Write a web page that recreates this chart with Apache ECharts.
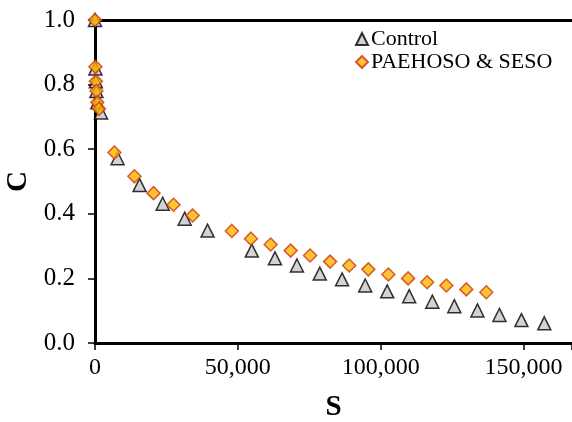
<!DOCTYPE html>
<html lang="en">
    <head>
        <meta charset="UTF-8" />
        <title>C vs S</title>
        <script src="https://cdn.jsdelivr.net/npm/echarts@6/dist/echarts.min.js"></script>
        <style>
            body {
                margin: 0;
                padding: 0;
                background: #fff;
            }

            #chart {
                width: 572px;
                height: 422px;
            }
        </style>
    </head>
    <body>
        <div id="chart"></div>
        <script>
            // values
            let controlS = [0, 150, 300, 500, 800, 2100, 7900, 15600, 23700, 31400, 39400, 54900, 63000, 70700, 78700, 86500, 94600, 102300, 110000, 118100, 125800, 133900, 141600, 149300, 157300];
            let controlC = [1.0, 0.85, 0.81, 0.78, 0.745, 0.714, 0.572, 0.489, 0.431, 0.385, 0.348, 0.286, 0.262, 0.24, 0.215, 0.197, 0.178, 0.16, 0.145, 0.128, 0.114, 0.101, 0.087, 0.071, 0.061];
            let paeS = [0, 150, 300, 500, 800, 1400, 6800, 13800, 20500, 27500, 34200, 47900, 54600, 61500, 68500, 75300, 82300, 89000, 95700, 102700, 109600, 116300, 123000, 130000, 137000];
            let paeC = [1.0, 0.855, 0.81, 0.78, 0.745, 0.725, 0.59, 0.516, 0.464, 0.428, 0.395, 0.347, 0.323, 0.305, 0.286, 0.271, 0.252, 0.24, 0.228, 0.212, 0.2, 0.188, 0.178, 0.166, 0.157];
            let seriesNames = ['Control', 'PAEHOSO & SESO'];

            let font = '"Liberation Serif", "Times New Roman", serif';

            function pairs(xs, ys) {
                let out = [];
                for (let i = 0; i < xs.length; i++) {
                    out.push([xs[i], ys[i]]);
                }
                return out;
            }

            function thousands(v) {
                return String(v).replace(/\B(?=(\d{3})+(?!\d))/g, ',');
            }

            let myChart = echarts.init(document.getElementById('chart'));

            let option = {
                animation: false,
                backgroundColor: '#fff',
                textStyle: { fontFamily: font },
                grid: { left: 95, right: 0, top: 20, bottom: 79, outerBoundsMode: 'none', containLabel: false },
                legend: {
                    orient: 'vertical',
                    left: 350,
                    top: 23,
                    itemWidth: 12,
                    itemHeight: 12,
                    itemGap: 1,
                    textStyle: { fontFamily: font, fontSize: 22, color: '#000', padding: [0, 0, 0, -2] },
                    data: seriesNames
                },
                xAxis: [
                    {
                        type: 'value',
                        min: 0,
                        max: 167000,
                        interval: 50000,
                        name: 'S',
                        nameLocation: 'middle',
                        nameGap: 50,
                        nameTextStyle: { fontFamily: font, fontSize: 29, fontWeight: 'bold', color: '#000' },
                        axisLine: { lineStyle: { color: '#000', width: 3 } },
                        axisTick: { length: 7, lineStyle: { color: '#000', width: 1.5 } },
                        axisLabel: {
                            fontFamily: font,
                            fontSize: 24,
                            color: '#000',
                            margin: 13,
                            formatter: (v) => (v % 50000 === 0 ? thousands(v) : '')
                        },
                        splitLine: { show: false }
                    },
                    {
                        type: 'value',
                        position: 'top',
                        min: 0,
                        max: 167000,
                        axisLine: { show: true, lineStyle: { color: '#000', width: 3 } },
                        axisTick: { show: false },
                        axisLabel: { show: false },
                        splitLine: { show: false }
                    }
                ],
                yAxis: {
                    type: 'value',
                    min: 0,
                    max: 1,
                    interval: 0.2,
                    name: 'C',
                    nameLocation: 'middle',
                    nameGap: 54,
                    nameTextStyle: { fontFamily: font, fontSize: 29, fontWeight: 'bold', color: '#000' },
                    axisLine: { show: true, lineStyle: { color: '#000', width: 3 } },
                    axisTick: { show: true, length: 7, lineStyle: { color: '#000', width: 1.5 } },
                    axisLabel: {
                        fontFamily: font,
                        fontSize: 25,
                        color: '#000',
                        margin: 20,
                        formatter: (v) => v.toFixed(1)
                    },
                    splitLine: { show: false }
                },
                series: [
                    {
                        name: seriesNames[0],
                        type: 'scatter',
                        symbol: 'triangle',
                        symbolSize: 13,
                        itemStyle: { color: '#c8c8c8', borderColor: '#000', borderWidth: 1.5 },
                        data: pairs(controlS, controlC)
                    },
                    {
                        name: seriesNames[1],
                        type: 'scatter',
                        symbol: 'diamond',
                        symbolSize: 13,
                        itemStyle: { color: '#ffb400', borderColor: '#cc3a10', borderWidth: 1.5 },
                        data: pairs(paeS, paeC)
                    }
                ]
            };
            myChart.setOption(option);
        </script>
    </body>
</html>
